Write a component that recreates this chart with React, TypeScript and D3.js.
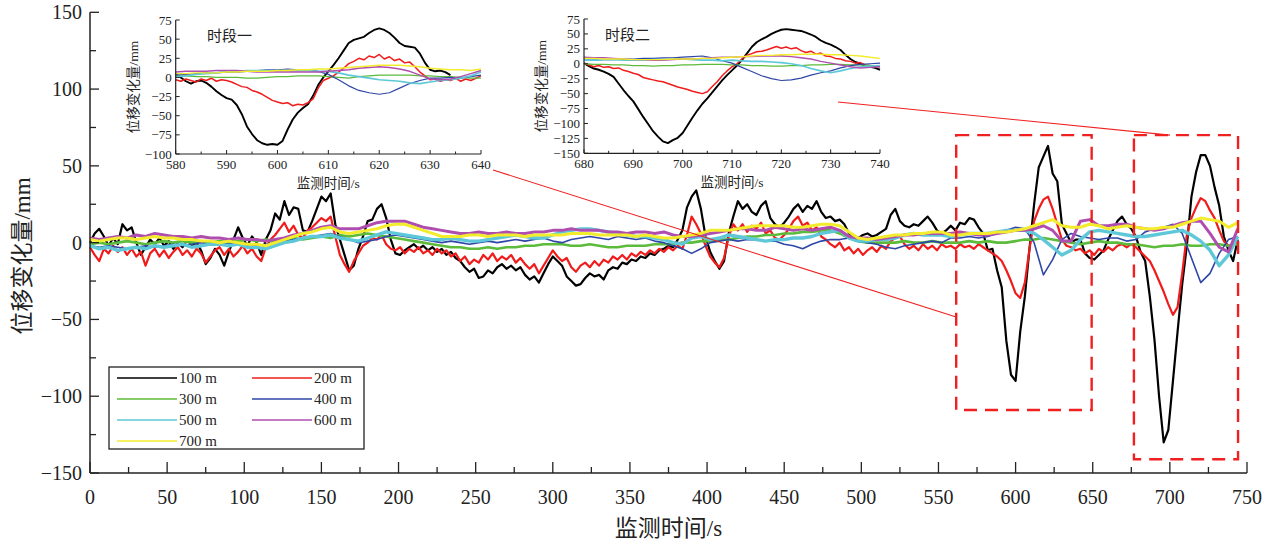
import React from "react";
import * as d3 from "d3";

// ---------------- data ----------------
const seriesNames = ["100 m", "200 m", "300 m", "400 m", "500 m", "600 m", "700 m"];
const seriesColors = ["#000000", "#f01c1c", "#5cbb3a", "#2e46a6", "#5ec8d8", "#b04eb0", "#f2ec2c"];

const xTicksMain = [0, 50, 100, 150, 200, 250, 300, 350, 400, 450, 500, 550, 600, 650, 700, 750];
const yTicksMain = [-150, -100, -50, 0, 50, 100, 150];

// main chart: 100 m and 200 m every 3 s, others every 6 s, starting at t = 0
const mainFineStep = 3;
const mainCoarseStep = 6;

const main100 = [
  0, 6, 9, 4, -2, 3, -1, 12, 8, 10,
  0, -8, -3, 2, -1, 3, -2, 1, -4, 0,
  -3, 2, -2, 0, -5, -14, -10, -4, -8, -15,
  -6, 2, 10, 3, -2, 4, 0, -8, 2, 8,
  19, 15, 27, 18, 23, 22, 8, 7, 14, 22,
  30, 27, 32, 12, 2, -8, -18, -15, -4, 4,
  14, 15, 22, 25, 16, 2, -7, -8, -5, -3,
  -1, -4, -2, -5, -3, -6, -4, -8, -6, -10,
  -12, -16, -19, -17, -23, -22, -18, -20, -16, -14,
  -17, -15, -18, -16, -21, -24, -22, -26, -20, -14,
  -9, -12, -15, -22, -25, -28, -27, -23, -20, -22,
  -21, -24, -18, -16, -17, -13, -14, -11, -12, -9,
  -10, -7, -8, -5, -4, -2, -3, 2, 8, 23,
  30, 34, 22, 4, -6, -12, -17, -12, 6, 17,
  27, 22, 25, 20, 18, 24, 27, 16, 12, 10,
  13, 17, 22, 25, 20, 24, 22, 27, 20, 16,
  17, 14, 15, 12, 6, 4, 3, 5, 6, 4,
  5, 7, 9, 18, 22, 14, 11, 10, 12, 11,
  14, 17, 13, 8, 6, 8, 11, 8, 13, 12,
  16, 15, 10, 6, -5, -4, -18, -29, -64, -86,
  -90, -58, -35, -4, 25, 49, 56, 63, 45, 40,
  12, 6, 0, 2, 2, -7, -10, -11, -8, -5,
  2, 8, 14, 17, 12, 9, 4, -6, -12, -35,
  -63, -100, -130, -122, -90, -58, -27, -2, 30, 46,
  57, 57, 50, 36, 24, 4, -5, -12, 2,
];

const main200 = [
  -3, -8, -12, -4, -7, -2, -6, -3, -8, -4,
  -9, -6, -15, -7, -4, -9, -5, -10, -6, -3,
  -8, -5, -9, -4, -7, -13, -9, -5, -3, -8,
  -4, -9, -6, -2, -7, -4, -9, -12, -3, 2,
  5, 9, 13, 7, 11, 5, 3, 8, 10, 13,
  16, 14, 17, 4, -8, -14, -19, -12, -7, -2,
  0, 3, 2, 5, -1, -4, -5, -3, -7, -4,
  -6, -3, -7, -5, -8, -4, -7, -5, -9, -7,
  -12, -9, -14, -11, -13, -8, -11, -7, -12, -9,
  -11, -8, -13, -10, -14, -17, -14, -20, -15, -10,
  -5, -9, -12, -10, -16, -19, -15, -13, -16, -12,
  -15, -11, -13, -9, -11, -8, -11, -7, -9, -6,
  -8, -5, -7, -4, -6, -3, -5, -2, -4, 5,
  17, 12, 6, -2, -9, -13, -16, -10, 4, 12,
  8, 12, 7, 11, 9, 13, 6, 8, 3, 2,
  5, 9, 14, 17, 11, 13, 8, 10, 4, 2,
  -1, -3, 0, -5, -3, -7, -4, -8, -5, -3,
  -6, -2, -4, 1, 3, 4, -1, -4, -2, -5,
  -1, -4, -2, -5, -1, -3, -2, -4, -1, -3,
  -2, -4, -1, -3, -5, -7, -9, -12, -18, -25,
  -33, -36, -26, -4, 14, 22, 28, 30, 22, 12,
  2, -2, -3, -5, -4, -7, -5, -8, -4, -6,
  -3, -5, -2, -1, -3, -1, -3, -6, -9, -12,
  -18, -25, -32, -40, -47, -42, -20, 5, 16, 23,
  29, 27, 21, 16, 8, 1, -2, -1, 0,
];

const main300 = [
  -1, 0, -1, 0, 1, 0, -1, 0, 1, 0,
  1, 0, 1, 0, 1, 0, 1, 2, 1, 2,
  1, 2, 3, 2, 3, 4, 3, 5, 4, 5,
  6, 5, 4, 3, 2, 1, 0, -1, -2, -3,
  -3, -4, -4, -3, -4, -3, -3, -2, -2, -1,
  -1, -1, -2, -2, -1, -2, -3, -3, -2, -2,
  -2, -1, -1, -1, 0, 0, 1, 1, 2, 2,
  3, 4, 4, 5, 5, 6, 6, 7, 7, 8,
  8, 6, 3, 1, 0, 0, 0, 0, 1, 0,
  0, 1, 0, 0, 0, 1, 0, 1, 0, 0,
  1, 2, 2, 3, 2, 1, 0, -1, 0, 1,
  0, 0, -1, -1, -2, -3, -2, -2, -1, -2,
  -2, -1, -1, -2, -1,
];

const main400 = [
  -2, -3, -2, -3, -4, -3, -2, -3, -2, -1,
  -2, -1, 0, -1, 0, -1, 0, -1, -2, -1,
  0, 1, 2, 3, 4, 5, 6, 4, 2, 0,
  1, 2, 4, 5, 4, 3, 2, 1, 0, 1,
  0, -1, 0, 1, 0, 1, 2, 1, 2, 3,
  1, 0, 2, 3, 4, 3, 2, 4, 3, 2,
  3, 1, 0, -2, -4, -7, -4, 0, 1, 2,
  1, 2, 2, 1, 1, -1, -2, -4, -1, 1,
  2, 2, 3, 1, 0, -1, -3, -4, -2, -1,
  0, 1, 0, 3, 3, 4, 3, 4, 6, 8,
  10, 9, 0, -21, -11, 2, 6, 4, 3, 2,
  3, 3, 1, 2, 7, 9, 10, 12, 6, -10,
  -26, -20, -7, 2, 4,
];

const main500 = [
  -2, -4, -3, -5, -4, -3, -4, -2, -3, -2,
  -1, -3, -2, -1, -1, -2, -1, -3, -3, -4,
  -2, 0, 1, 3, 4, 4, 5, 3, 2, 1,
  3, 5, 7, 6, 5, 4, 3, 2, 2, 3,
  2, 1, 1, 2, 3, 4, 5, 4, 3, 3,
  5, 7, 8, 9, 9, 8, 7, 6, 5, 4,
  4, 3, 2, 0, -1, 3, 4, 2, 3, 5,
  4, 3, 2, 1, 2, 2, 3, 3, 4, 6,
  7, 8, 3, 1, 1, 2, 2, 3, 5, 6,
  5, 5, 5, 4, 5, 6, 6, 6, 7, 8,
  8, 8, 6, 2, -3, -8, -5, 2, 7, 8,
  7, 6, 5, 4, 4, 5, 6, 7, 8, 5,
  1, -5, -15, -8, 4,
];

const main600 = [
  3, 2, 3, 4, 3, 5, 4, 6, 5, 4,
  4, 3, 4, 3, 3, 2, 3, 2, 2, 1,
  2, 3, 5, 6, 8, 10, 11, 9, 9, 9,
  11, 13, 14, 14, 14, 12, 10, 9, 8, 7,
  6, 6, 7, 6, 6, 7, 6, 6, 7, 7,
  8, 8, 9, 8, 8, 8, 7, 7, 6, 7,
  7, 6, 7, 5, 4, 4, 5, 6, 7, 8,
  9, 9, 8, 8, 10, 9, 8, 9, 8, 9,
  10, 8, 4, 3, 3, 2, 3, 4, 5, 5,
  6, 6, 6, 6, 7, 6, 5, 5, 6, 7,
  8, 8, 9, 11, 8, 1, 1, 14, 15, 11,
  11, 12, 12, 10, 9, 8, 9, 11, 13, 14,
  14, 6, -3, -6, 9,
];

const main700 = [
  2, 1, 2, 3, 3, 2, 3, 4, 3, 3,
  2, 2, 1, 1, 0, 1, 0, -1, -1, -2,
  0, 2, 4, 6, 7, 9, 10, 7, 6, 7,
  8, 9, 11, 12, 12, 10, 8, 6, 4, 4,
  4, 5, 5, 4, 5, 5, 5, 4, 5, 5,
  5, 5, 6, 6, 6, 5, 5, 5, 5, 4,
  5, 4, 3, 3, 4, 5, 6, 8, 8, 8,
  9, 10, 11, 11, 11, 11, 10, 10, 11, 12,
  12, 11, 7, 3, 2, 3, 4, 5, 5, 6,
  6, 7, 7, 5, 5, 6, 6, 6, 7, 7,
  8, 9, 11, 13, 15, 11, 10, 10, 12, 11,
  9, 10, 11, 10, 9, 9, 10, 10, 12, 14,
  16, 15, 14, 10, 13,
];

// inset 1 (时段一): 580-640 s; 100 m / 200 m every 1 s, others every 2 s
const inset1Start = 580;
const inset1XTicks = [580, 590, 600, 610, 620, 630, 640];
const inset1YTicks = [-100, -75, -50, -25, 0, 25, 50, 75];
const inset1_100 = [
  5, 0, -5, -8, -5, -4, -7, -12, -18, -23,
  -27, -29, -36, -48, -64, -74, -82, -86, -88, -87,
  -88, -83, -68, -55, -46, -40, -35, -24, -10, 0,
  8, 16, 25, 35, 45, 49, 51, 53, 58, 62,
  64, 62, 58, 52, 45, 41, 40, 39, 31, 19,
  10, 8, 9, 7, 3,
];
const inset1_200 = [
  -3, -5, -2, -4, -6, -2, -4, -1, -5, -3,
  -4, -6, -9, -12, -13, -17, -19, -22, -26, -30,
  -32, -34, -33, -37, -35, -36, -33, -28, -14, -4,
  -1, 2, 7, 12, 18, 21, 25, 23, 28, 26,
  30, 24, 27, 22, 24, 19, 20, 14, 7, 2,
  -3, -2, -5, -3, -4, -1, -5, -2, -4, -1,
  2,
];
const inset1_300 = [2, 2, 1, 1, 0, 0, 0, -1, -1, 0, 1, 1, 2, 2, 2, 1, 0, -1, 1, 2, 3, 3, 3, 3, 2, 2, 1, 1, 0, -1, -1];
const inset1_400 = [3, 4, 5, 6, 6, 7, 7, 8, 9, 10, 10, 11, 10, 10, 8, 4, -3, -11, -17, -20, -22, -20, -14, -8, -4, -1, -1, 0, -1, 1, 3];
const inset1_500 = [1, 2, 4, 5, 6, 8, 8, 9, 9, 9, 9, 9, 9, 9, 8, 8, 6, 3, 1, -1, -3, -4, -5, -7, -8, -6, -4, -3, -1, 2, 7];
const inset1_600 = [7, 8, 8, 8, 9, 9, 9, 8, 7, 7, 7, 7, 7, 7, 7, 8, 9, 10, 12, 13, 14, 13, 11, 8, 3, -2, -3, -2, 1, 5, 9];
const inset1_700 = [5, 5, 6, 6, 6, 7, 7, 8, 8, 8, 9, 9, 10, 10, 11, 11, 12, 13, 14, 15, 16, 16, 16, 15, 14, 12, 11, 10, 10, 9, 11];

// inset 2 (时段二): 680-740 s
const inset2Start = 680;
const inset2XTicks = [680, 690, 700, 710, 720, 730, 740];
const inset2YTicks = [-150, -125, -100, -75, -50, -25, 0, 25, 50, 75];
const inset2_100 = [
  1, -4, -8, -10, -13, -17, -22, -33, -44, -54,
  -63, -76, -89, -101, -113, -122, -130, -133, -128, -124,
  -116, -103, -90, -78, -67, -58, -48, -38, -28, -19,
  -11, -3, 6, 17, 28, 36, 41, 45, 50, 54,
  57, 58, 57, 56, 55, 52, 49, 45, 39, 35,
  32, 28, 23, 15, 8, 3, 0, -3, -5, -7,
  -10,
];
const inset2_200 = [
  1, -2, -5, -3, -6, -5, -8, -7, -11, -13,
  -16, -18, -23, -25, -27, -29, -30, -33, -36, -39,
  -41, -43, -46, -48, -50, -47, -38, -30, -20, -12,
  -5, 0, 8, 14, 17, 20, 21, 23, 26, 29,
  26, 28, 25, 27, 22, 19, 21, 16, 18, 13,
  12, 9, 8, 5, 4, 1, 2, -2, -3, -4,
  -5,
];
const inset2_300 = [0, -1, -1, -2, -2, -3, -3, -4, -3, -3, -2, -2, -1, -1, -1, -2, -2, -3, -3, -4, -4, -3, -3, -2, -2, -1, -1, -2, -2, -3, -3];
const inset2_400 = [6, 6, 7, 7, 8, 8, 9, 9, 10, 10, 11, 12, 13, 10, 5, 1, -6, -13, -20, -25, -28, -27, -24, -19, -15, -12, -7, -3, -1, 0, 1];
const inset2_500 = [6, 6, 7, 7, 6, 6, 6, 7, 7, 8, 8, 7, 6, 6, 5, 6, 5, 4, 4, 3, 2, 0, -3, -8, -12, -15, -12, -8, -5, -4, -3];
const inset2_600 = [11, 10, 10, 9, 8, 7, 7, 6, 6, 7, 8, 8, 9, 10, 11, 11, 12, 12, 13, 13, 13, 12, 10, 8, 4, 1, -2, -5, -7, -6, -5];
const inset2_700 = [9, 9, 8, 8, 8, 7, 7, 7, 7, 8, 8, 8, 9, 9, 10, 11, 12, 13, 14, 14, 15, 15, 16, 16, 16, 15, 15, 14, 13, 11, 9];

// ---------------- helpers ----------------
type Pt = [number, number];
const toPts = (vals: number[], start: number, step: number): Pt[] =>
  vals.map((v, i) => [start + i * step, v] as Pt);

const FONT = "'Liberation Serif', 'Times New Roman', 'Noto Sans CJK SC', serif";
const fmt = (v: number) => (v < 0 ? "\u2212" + Math.abs(v) : String(v));

const mainSeries: Pt[][] = [
  toPts(main100, 0, mainFineStep),
  toPts(main200, 0, mainFineStep),
  toPts(main300, 0, mainCoarseStep),
  toPts(main400, 0, mainCoarseStep),
  toPts(main500, 0, mainCoarseStep),
  toPts(main600, 0, mainCoarseStep),
  toPts(main700, 0, mainCoarseStep),
];
const mainWidths = [2.2, 2.2, 2.6, 1.6, 3.4, 3, 3];

const inset1Series: Pt[][] = [
  toPts(inset1_100, inset1Start, 1),
  toPts(inset1_200, inset1Start, 1),
  toPts(inset1_300, inset1Start, 2),
  toPts(inset1_400, inset1Start, 2),
  toPts(inset1_500, inset1Start, 2),
  toPts(inset1_600, inset1Start, 2),
  toPts(inset1_700, inset1Start, 2),
];
const inset2Series: Pt[][] = [
  toPts(inset2_100, inset2Start, 1),
  toPts(inset2_200, inset2Start, 1),
  toPts(inset2_300, inset2Start, 2),
  toPts(inset2_400, inset2Start, 2),
  toPts(inset2_500, inset2Start, 2),
  toPts(inset2_600, inset2Start, 2),
  toPts(inset2_700, inset2Start, 2),
];
const insetWidths = [1.9, 1.5, 1.3, 1.2, 1.7, 1.4, 1.4];

// ---------------- inset component ----------------
function Inset(props: {
  x0: number; x1: number; y0: number; y1: number;
  xDomain: [number, number]; yDomain: [number, number];
  xTicks: number[]; yTicks: number[]; series: Pt[][]; label: string;
  labelX: number;
}) {
  const { x0, x1, y0, y1, xDomain, yDomain, xTicks, yTicks, series, label, labelX } = props;
  const x = d3.scaleLinear().domain(xDomain).range([x0, x1]);
  const y = d3.scaleLinear().domain(yDomain).range([y1, y0]);
  const line = d3.line<Pt>().x((d) => x(d[0])).y((d) => y(d[1]));
  const minor = d3.range(xDomain[0] + 5, xDomain[1], 10);
  return (
    <g>
      {series.map((s, i) => (
        <path key={i} d={line(s) || ""} fill="none" stroke={seriesColors[i]} strokeWidth={insetWidths[i]} strokeLinejoin="round" />
      ))}
      <line x1={x0} x2={x0} y1={y0} y2={y1} stroke="#222" strokeWidth={1.2} />
      <line x1={x0} x2={x1} y1={y1} y2={y1} stroke="#222" strokeWidth={1.2} />
      {yTicks.map((t) => (
        <g key={"y" + t}>
          <line x1={x0} x2={x0 + 4} y1={y(t)} y2={y(t)} stroke="#222" strokeWidth={1} />
          <text x={x0 - 4} y={y(t) + 4.5} fontSize={13} textAnchor="end" fontFamily={FONT} fill="#222">{fmt(t)}</text>
        </g>
      ))}
      {xTicks.map((t) => (
        <g key={"x" + t}>
          <line x1={x(t)} x2={x(t)} y1={y1} y2={y1 - 4} stroke="#222" strokeWidth={1} />
          <text x={x(t)} y={y1 + 15} fontSize={13} textAnchor="middle" fontFamily={FONT} fill="#222">{t}</text>
        </g>
      ))}
      {minor.map((t) => (
        <line key={"m" + t} x1={x(t)} x2={x(t)} y1={y1} y2={y1 - 2.5} stroke="#222" strokeWidth={1} />
      ))}
      <text x={(x0 + x1) / 2} y={y1 + 34} fontSize={13.5} textAnchor="middle" fontFamily={FONT} fill="#222">监测时间/s</text>
      <text transform={`translate(${x0 - 38},${(y0 + y1) / 2}) rotate(-90)`} fontSize={13.5} textAnchor="middle" fontFamily={FONT} fill="#222">位移变化量/mm</text>
      <text x={labelX} y={y0 + 21} fontSize={15} fontFamily={FONT} fill="#222">{label}</text>
    </g>
  );
}

// ---------------- main ----------------
export default function App() {
  const W = 1274, H = 545;
  const X0 = 90, X1 = 1247, YT = 12.3, YB = 473;
  const x = d3.scaleLinear().domain([0, 750]).range([X0, X1]);
  const y = d3.scaleLinear().domain([-150, 150]).range([YB, YT]);
  const line = d3.line<Pt>().x((d) => x(d[0])).y((d) => y(d[1]));
  const xMinor = d3.range(25, 750, 50);
  const yMinor = d3.range(-125, 150, 50);

  // highlight boxes (data-space)
  const boxes = [
    { t0: 561.5, t1: 649.3, v0: -109, v1: 70 },
    { t0: 676.7, t1: 744.2, v0: -141, v1: 70 },
  ];

  const legendRows = [[0, 1], [2, 3], [4, 5], [6]];

  return (
    <svg width={W} height={H} viewBox={`0 0 ${W} ${H}`} style={{ display: "block", position: "absolute", left: 0, top: 0, background: "#fff" }}>
      <rect x={0} y={0} width={W} height={H} fill="#fff" />
      {/* series */}
      {mainSeries.map((s, i) => (
        <path key={i} d={line(s) || ""} fill="none" stroke={seriesColors[i]} strokeWidth={mainWidths[i]} strokeLinejoin="round" />
      ))}

      {/* axes */}
      <line x1={X0} x2={X0} y1={YT} y2={YB} stroke="#222" strokeWidth={1.5} />
      <line x1={X0} x2={X1} y1={YB} y2={YB} stroke="#222" strokeWidth={1.5} />
      {yTicksMain.map((t) => (
        <g key={"yt" + t}>
          <line x1={X0} x2={X0 + 9} y1={y(t)} y2={y(t)} stroke="#222" strokeWidth={1.3} />
          <text x={X0 - 8} y={y(t) + 7} fontSize={20} textAnchor="end" fontFamily={FONT} fill="#222">{fmt(t)}</text>
        </g>
      ))}
      {yMinor.map((t) => (
        <line key={"ym" + t} x1={X0} x2={X0 + 6} y1={y(t)} y2={y(t)} stroke="#222" strokeWidth={1.3} />
      ))}
      {xTicksMain.map((t) => (
        <g key={"xt" + t}>
          <line x1={x(t)} x2={x(t)} y1={YB} y2={YB - 11} stroke="#222" strokeWidth={1.3} />
          <text x={x(t)} y={YB + 31} fontSize={20} textAnchor="middle" fontFamily={FONT} fill="#222">{t}</text>
        </g>
      ))}
      {xMinor.map((t) => (
        <line key={"xm" + t} x1={x(t)} x2={x(t)} y1={YB} y2={YB - 6} stroke="#222" strokeWidth={1.3} />
      ))}
      <text x={(X0 + X1) / 2} y={536} fontSize={23} textAnchor="middle" fontFamily={FONT} fill="#222">监测时间/s</text>
      <text transform={`translate(${30},${256}) rotate(-90)`} fontSize={23} textAnchor="middle" fontFamily={FONT} fill="#222">位移变化量/mm</text>

      {/* legend */}
      <rect x={109} y={367} width={255} height={82} fill="#fff" stroke="#222" strokeWidth={1.3} />
      {legendRows.map((row, r) =>
        row.map((si, c) => {
          const ly = 378 + r * 21;
          const lx = c === 0 ? 117 : 252;
          return (
            <g key={si}>
              <line x1={lx} x2={lx + 60} y1={ly} y2={ly} stroke={seriesColors[si]} strokeWidth={1.6} />
              <text x={lx + 62} y={ly + 5} fontSize={15} fontFamily={FONT} fill="#222">{seriesNames[si]}</text>
            </g>
          );
        })
      )}

      {/* highlight boxes */}
      {boxes.map((b, i) => (
        <rect key={i} x={x(b.t0)} y={y(b.v1)} width={x(b.t1) - x(b.t0)} height={y(b.v0) - y(b.v1)} fill="none" stroke="#f02020" strokeWidth={2.4} strokeDasharray="13 8" />
      ))}

      {/* connectors */}
      <line x1={493} y1={170} x2={x(boxes[0].t0)} y2={317} stroke="#f02020" strokeWidth={1.1} />
      <line x1={838} y1={102} x2={1170} y2={y(boxes[1].v1)} stroke="#f02020" strokeWidth={1.1} />

      {/* insets */}
      <Inset x0={175.7} x1={481} y0={20} y1={154} xDomain={[580, 640]} yDomain={[-100, 75]}
        xTicks={inset1XTicks} yTicks={inset1YTicks} series={inset1Series} label="时段一" labelX={207} />
      <Inset x0={584} x1={880} y0={19} y1={153.3} xDomain={[680, 740]} yDomain={[-150, 75]}
        xTicks={inset2XTicks} yTicks={inset2YTicks} series={inset2Series} label="时段二" labelX={605} />
    </svg>
  );
}
